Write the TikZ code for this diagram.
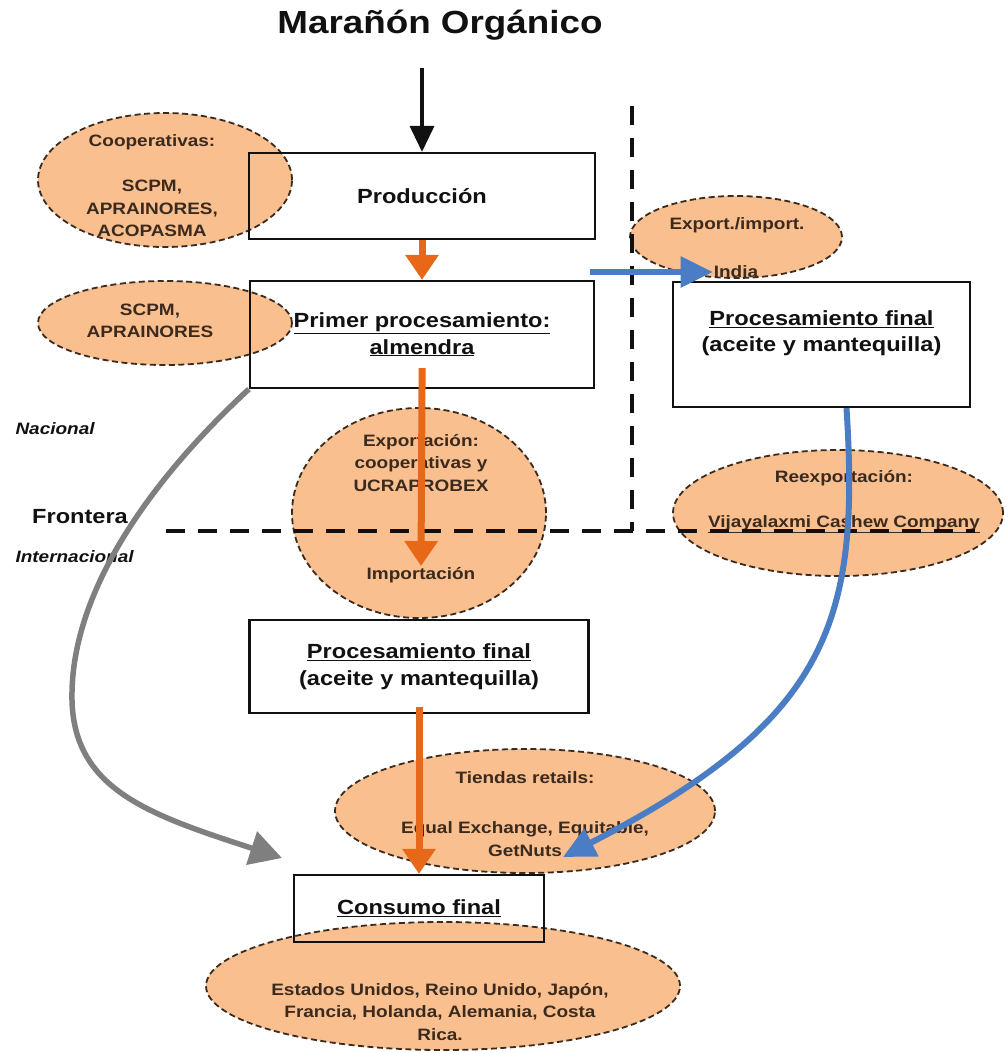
\documentclass[tikz,border=0pt]{standalone}
\usepackage{fontspec}
\setmainfont[FakeStretch=1.15]{Liberation Sans}
\usepackage{tikz}
\usetikzlibrary{arrows.meta,positioning,shapes.geometric}
\definecolor{ink}{HTML}{111111}
\definecolor{ink2}{HTML}{3B2A1E}
\definecolor{peach}{HTML}{F9BF8F}
\definecolor{orange1}{HTML}{E8681A}
\definecolor{blue1}{HTML}{4A7DC4}
\definecolor{grey1}{HTML}{7F7F7F}
\newcommand{\smalltxt}{\fontsize{16.5}{22.5}\selectfont\bfseries}
\newcommand{\boxtxt}{\fontsize{20.5}{26.5}\selectfont\bfseries}

\begin{document}
\begin{tikzpicture}[x=1pt, y=-1pt, font=\smalltxt,
  box/.style={draw=ink, line width=2.2pt, align=center, font=\boxtxt, text=ink},
  oval/.style={ellipse, draw=ink2, dash pattern=on 6pt off 3.5pt, line width=1.8pt, fill=peach, inner sep=0pt},
  lbl/.style={text=ink2, align=center, inner sep=1pt},
  frontier/.style={ink, line width=4pt, dash pattern=on 19pt off 13pt},
  karr/.style={-{Triangle[length=26pt,width=24pt]}, ink, line width=3.5pt},
  oarr/.style={-{Triangle[length=25pt,width=32pt]}, orange1, line width=7pt},
  barr/.style={-{Triangle[length=32pt,width=30pt]}, blue1, line width=6pt},
  garr/.style={-{Triangle[length=32pt,width=34pt]}, grey1, line width=5.5pt}]
  \useasboundingbox (0,0) rectangle (1005,1053);
  \node[font=\fontsize{32}{38}\selectfont\bfseries, text=ink] (title) at (440,25) {Marañón Orgánico};

  \node[oval, minimum width=254pt, minimum height=134pt] (coop) at (165,180) {};
  \node[oval, minimum width=254pt, minimum height=84pt] (scpm) at (165,323) {};
  \node[oval, minimum width=254pt, minimum height=210pt] (expo) at (419,513) {};
  \node[oval, minimum width=212pt, minimum height=82pt] (expimp) at (736,237) {};
  \node[oval, minimum width=330pt, minimum height=126pt] (reexp) at (838,513) {};
  \node[oval, minimum width=380pt, minimum height=124pt] (tiendas) at (525,811) {};
  \node[oval, minimum width=474pt, minimum height=128pt] (paises) at (443,986) {};

  \node[box, minimum width=346pt, minimum height=86pt] (prod) at (422,196) {Producción};
  \node[box, minimum width=344pt, minimum height=107pt] (prim) at (422,334.5) {\underline{Primer procesamiento:}\\\underline{almendra}};
  \node[box, minimum width=297pt, minimum height=125pt] (fin2) at (821.5,344.5) {\underline{Procesamiento final}\\(aceite y mantequilla)\\\mbox{}};
  \node[box, minimum width=339pt, minimum height=93pt] (fin1) at (419,666.5) {\underline{Procesamiento final}\\(aceite y mantequilla)};
  \node[box, minimum width=250pt, minimum height=67pt] (cons) at (419,908.5) {\underline{Consumo final}};

  \node[lbl] (coopt) at (152,186) {Cooperativas:\\[22.5pt]SCPM,\\APRAINORES,\\ACOPASMA};
  \node[lbl] (scpmt) at (150,321) {SCPM,\\APRAINORES};
  \node[lbl] (expot) at (421,463) {Exportación:\\cooperativas y\\UCRAPROBEX};
  \node[lbl] (imp) at (421,575) {Importación};
  \node[lbl] (expimpt) at (737,225) {Export./import.};
  \node[lbl] (india) at (736,272) {India};
  \node[lbl] (reext) at (844,502) {Reexportación:\\[22.5pt]\underline{Vijayalaxmi Cashew Company}};
  \node[lbl] (tiendast) at (525,814) {Tiendas retails:\\[28pt]Equal Exchange, Equitable,\\GetNuts};
  \node[lbl] (paisest) at (440,1012) {Estados Unidos, Reino Unido, Japón,\\Francia, Holanda, Alemania, Costa\\Rica.};
  \node[font=\boxtxt, text=ink] (frontera) at (80,517) {Frontera};
  \node[anchor=west, font=\smalltxt\itshape, text=ink] (nac) at (12,429) {Nacional};
  \node[anchor=west, font=\smalltxt\itshape, text=ink] (intl) at (12,557) {Internacional};

  \coordinate (fw) at (166,531); \coordinate (fe) at (975,531);
  \coordinate (vn) at (632,106); \coordinate (vs) at (632,531);
  \draw[frontier] (fw) -- (fe);
  \draw[frontier] (vn) -- (vs);

  \coordinate (src) at (422,68);
  \coordinate (bsrc) at (590,272);
  \coordinate (gtn) at (563,857);
  \coordinate (gtip) at (282,858);
  \draw[karr] (src) -- (prod.north);
  \draw[oarr] (prod.south) -- (prim.north);
  \draw[oarr, shorten <=-21pt] (prim.south) -- (imp.north);
  \draw[oarr, shorten <=-7pt] (fin1.south) -- (cons.north);
  \draw[barr] (bsrc) -- (india.west);
  \draw[barr] ([xshift=25pt]fin2.south) .. controls (860,620) and (830,720) .. (gtn);
  \draw[garr] (prim.south west) .. controls (140,490) and (70,600) .. (72,700) .. controls (74,790) and (150,815) .. (gtip);
\end{tikzpicture}
\end{document}
